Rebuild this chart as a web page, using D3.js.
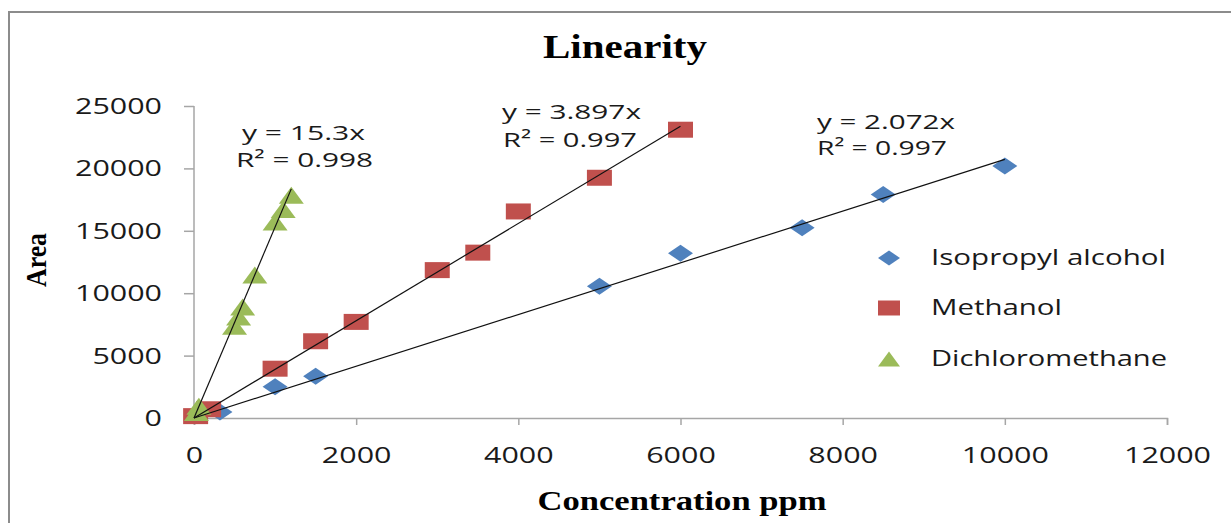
<!DOCTYPE html>
<html>
<head>
<meta charset="utf-8">
<script src="https://cdn.jsdelivr.net/npm/d3@7"></script>
<style>
  body { margin: 0; background: #fff; }
  svg { display: block; }
</style>
</head>
<body>
<div id="chart"></div>
<script>
// data
const isopropyl = [[320, 480], [1000, 2500], [1500, 3350], [5000, 10550], [6000, 13200], [7500, 15250], [8500, 17900], [10000, 20200]];
const methanol = [[20, 150], [180, 700], [1000, 3950], [1500, 6150], [2000, 7700], [3000, 11850], [3500, 13250], [4000, 16550], [5000, 19250], [6000, 23100]];
const dcm = [[30, 450], [60, 950], [500, 7350], [550, 8100], [600, 8900], [750, 11450], [1000, 15700], [1100, 16700], [1200, 17850]];
const seriesNames = ['Isopropyl alcohol', 'Methanol', 'Dichloromethane'];
const seriesColors = ['#4F81BD', '#C0504D', '#9BBB59'];
const slopes = [2.072, 3.897, 15.3];
const r2 = ['0.997', '0.997', '0.998'];
const xTicks = [0, 2000, 4000, 6000, 8000, 10000, 12000];
const yTicks = [0, 5000, 10000, 15000, 20000, 25000];

const W = 1231, H = 523;
const svg = d3.select('#chart').append('svg').attr('width', W).attr('height', H);

// frame
svg.append('path')
  .attr('d', `M9,${H + 5} V12 H${W + 5}`)
  .attr('fill', 'none').attr('stroke', '#8c8c8c').attr('stroke-width', 2);

const x = d3.scaleLinear().domain([0, 12000]).range([194, 1167]);
const y = d3.scaleLinear().domain([0, 25000]).range([418, 106]);

const digitW = 17.4;
const sans = 'Open Sans, sans-serif';
const serif = 'Liberation Serif, Times New Roman, serif';

// axes
const yAxis = svg.append('g').attr('transform', `translate(${x(0)},0)`)
  .call(d3.axisLeft(y).tickValues(yTicks).tickSize(10).tickPadding(22).tickFormat(d3.format('d')));
const xAxis = svg.append('g').attr('transform', `translate(0,${y(0)})`)
  .call(d3.axisBottom(x).tickValues(xTicks).tickSize(7).tickPadding(23).tickFormat(d3.format('d')));
[yAxis, xAxis].forEach(g => {
  g.select('.domain').attr('stroke', '#a6a6a6').attr('stroke-width', 1.5);
  g.selectAll('.tick line').attr('stroke', '#a6a6a6').attr('stroke-width', 1.5);
  g.selectAll('.tick text')
    .attr('fill', '#1a1a1a')
    .style('font-family', sans).style('font-size', '21px')
    .attr('textLength', d => String(d).length * digitW)
    .attr('lengthAdjust', 'spacingAndGlyphs');
});
yAxis.select('.domain').attr('d', `M-0,${y(0)}V${y(25000)}`);
yAxis.selectAll('.tick text').attr('dy', '0.36em');
xAxis.selectAll('.tick text').attr('dy', '0.71em');

const allSeries = [isopropyl, methanol, dcm];

// marker shapes
const shape = {
  diamond: (w, h) => `M0,${-h}L${w},0L0,${h}L${-w},0Z`,
  square: (w, h) => `M${-w},${-h}H${w}V${h}H${-w}Z`,
  triangle: (w, h) => `M0,${-h}L${w},${h}L${-w},${h}Z`
};
const shapeKeys = ['diamond', 'square', 'triangle'];
const sizes = [[12.5, 8.5], [12.5, 8], [12.5, 8.5]];

allSeries.forEach((s, i) => {
  svg.append('g').selectAll('path').data(s).join('path')
    .attr('d', shape[shapeKeys[i]](sizes[i][0], sizes[i][1]))
    .attr('transform', d => `translate(${x(d[0])},${y(d[1])})`)
    .attr('fill', seriesColors[i]);
});

// trendlines on top of markers
allSeries.forEach((s, i) => {
  const xmax = d3.max(s, d => d[0]);
  svg.append('line')
    .attr('x1', x(0)).attr('y1', y(0))
    .attr('x2', x(xmax)).attr('y2', y(slopes[i] * xmax))
    .attr('stroke', '#111').attr('stroke-width', 1.2);
});

// equation labels
const eqPos = [[817, 129, 817, 155, 138, 130], [502, 119, 503, 147, 139, 134], [242, 140, 236, 167, 123, 137]];
eqPos.forEach((p, i) => {
  svg.append('text').attr('x', p[0]).attr('y', p[1])
    .style('font-family', sans).style('font-size', '20px').attr('fill', '#1a1a1a')
    .attr('textLength', p[4]).attr('lengthAdjust', 'spacingAndGlyphs')
    .text(`y = ${slopes[i]}x`);
  svg.append('text').attr('x', p[2]).attr('y', p[3])
    .style('font-family', sans).style('font-size', '20px').attr('fill', '#1a1a1a')
    .attr('textLength', p[5]).attr('lengthAdjust', 'spacingAndGlyphs')
    .text(`R² = ${r2[i]}`);
});

// legend
const legendY = [258, 308, 359];
const legendW = [235, 131, 236];
seriesNames.forEach((n, i) => {
  svg.append('path')
    .attr('d', shape[shapeKeys[i]](11, 7.5))
    .attr('transform', `translate(889,${legendY[i]})`)
    .attr('fill', seriesColors[i]);
  svg.append('text').attr('x', 931).attr('y', legendY[i] + 7)
    .style('font-family', sans).style('font-size', '22px').attr('fill', '#1a1a1a')
    .attr('textLength', legendW[i]).attr('lengthAdjust', 'spacingAndGlyphs')
    .text(n);
});

// titles
svg.append('text').attr('x', 625).attr('y', 58).attr('text-anchor', 'middle')
  .style('font-family', serif).style('font-size', '34px').style('font-weight', 'bold')
  .attr('textLength', 164).attr('lengthAdjust', 'spacingAndGlyphs')
  .text('Linearity');
svg.append('text').attr('x', 682).attr('y', 510).attr('text-anchor', 'middle')
  .style('font-family', serif).style('font-size', '28px').style('font-weight', 'bold')
  .attr('textLength', 289).attr('lengthAdjust', 'spacingAndGlyphs')
  .text('Concentration ppm');
svg.append('text').attr('transform', 'translate(46,260) rotate(-90)').attr('text-anchor', 'middle')
  .style('font-family', serif).style('font-size', '29px').style('font-weight', 'bold')
  .attr('textLength', 54).attr('lengthAdjust', 'spacingAndGlyphs')
  .text('Area');
</script>
</body>
</html>
